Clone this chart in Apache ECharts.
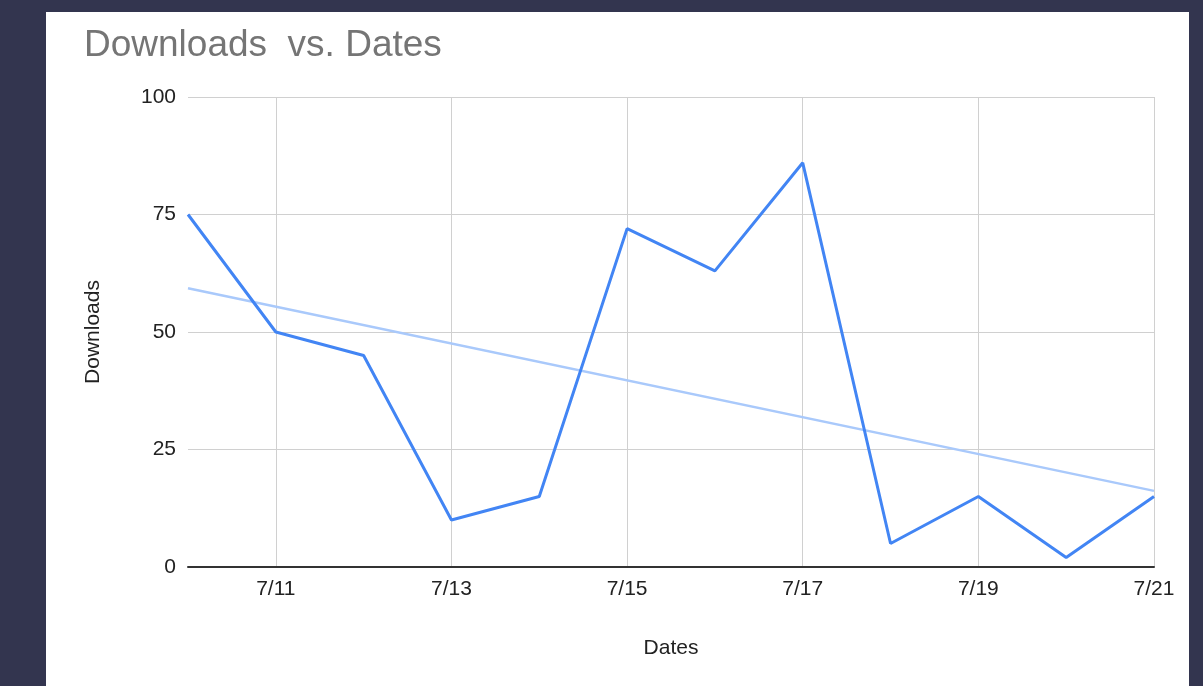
<!DOCTYPE html>
<html>
<head>
<meta charset="utf-8">
<script src="https://cdn.jsdelivr.net/npm/echarts@6/dist/echarts.min.js"></script>
<style>
  html, body { margin: 0; padding: 0; width: 1203px; height: 686px; background: #33354f; overflow: hidden; }
  .card { position: absolute; left: 46px; top: 12px; width: 1143px; height: 674px; background: #ffffff; }
  .chr { width: 100%; height: 100%; }
</style>
</head>
<body>
<div class="card"><div class="chr" id="container"></div></div>
<script>
const dates = ['7/10', '7/11', '7/12', '7/13', '7/14', '7/15', '7/16', '7/17', '7/18', '7/19', '7/20', '7/21'];
const downloads = [75, 50, 45, 10, 15, 72, 63, 86, 5, 15, 2, 15];
const trend = [59.3, null, null, null, null, null, null, null, null, null, null, 16.2];

const font = '"Liberation Sans", Arial, sans-serif';
const chart = echarts.init(document.getElementById('container'));
const everyOther = (index) => index % 2 === 1;

chart.setOption({
  animation: false,
  title: {
    text: 'Downloads  vs. Dates',
    left: 33,
    top: 10,
    textStyle: {
      fontFamily: font,
      fontSize: 37,
      fontWeight: 'normal',
      color: '#757575',
    },
  },
  grid: {
    left: 142,
    right: 35,
    top: 85,
    bottom: 119,
  },
  xAxis: {
    type: 'category',
    data: dates,
    boundaryGap: false,
    name: 'Dates',
    nameLocation: 'middle',
    nameGap: 71,
    nameTextStyle: { fontFamily: font, fontSize: 21, color: '#222' },
    axisLine: { lineStyle: { color: '#333', width: 2 } },
    axisTick: { show: false },
    axisLabel: {
      interval: everyOther,
      margin: 12,
      fontFamily: font,
      fontSize: 21,
      color: '#222',
    },
    splitLine: {
      show: true,
      interval: everyOther,
      lineStyle: { color: '#d0d0d0', width: 1 },
    },
  },
  yAxis: {
    type: 'value',
    min: 0,
    max: 100,
    interval: 25,
    name: 'Downloads',
    nameLocation: 'middle',
    nameGap: 84,
    nameTextStyle: { fontFamily: font, fontSize: 21, color: '#222' },
    axisLine: { show: false },
    axisTick: { show: false },
    axisLabel: {
      margin: 12,
      fontFamily: font,
      fontSize: 21,
      color: '#222',
    },
    splitLine: { lineStyle: { color: '#d0d0d0', width: 1 } },
  },
  series: [
    {
      name: 'Trendline',
      type: 'line',
      data: trend,
      connectNulls: true,
      showSymbol: false,
      lineStyle: { color: '#a9c9fb', width: 2.5 },
      z: 2,
    },
    {
      name: 'Downloads',
      type: 'line',
      data: downloads,
      showSymbol: false,
      lineStyle: { color: '#4285f4', width: 3 },
      z: 3,
    },
  ],
});
</script>
</body>
</html>
